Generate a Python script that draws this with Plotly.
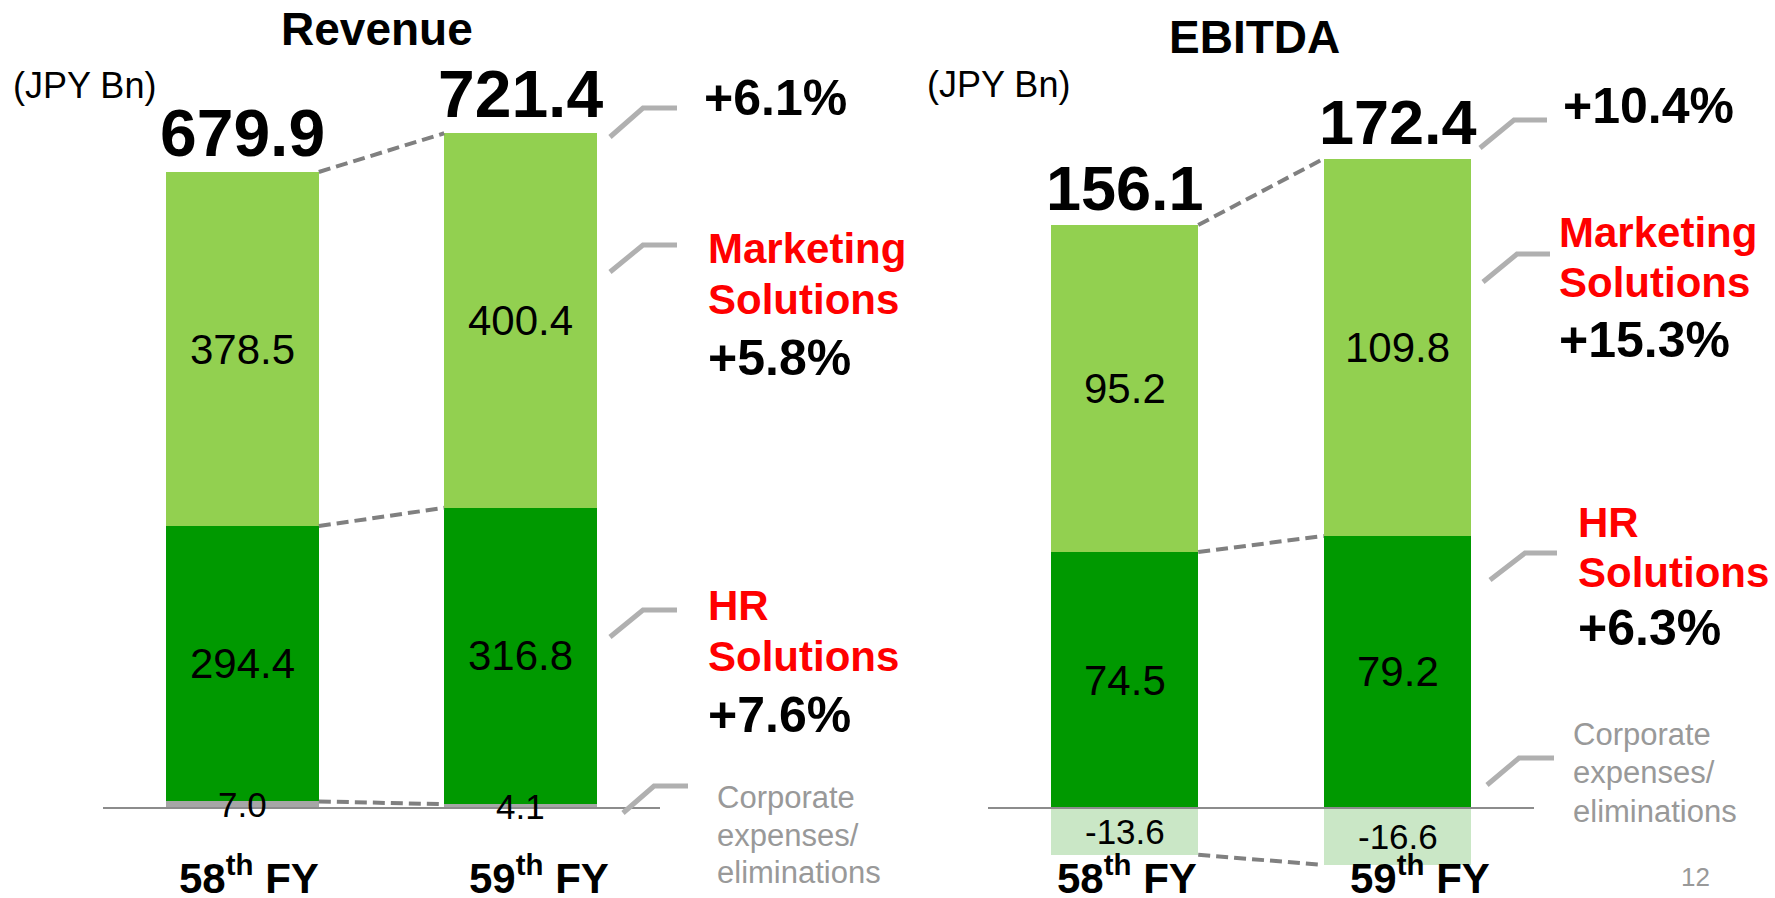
import plotly.graph_objects as go

W, H = 1775, 898
FONT = "Liberation Sans, Arial, sans-serif"

# ---------------- data ----------------
categories = ["58th FY", "59th FY"]
category_labels = ["58<sup>th</sup> FY", "59<sup>th</sup> FY"]

rev_corp = [7.0, 4.1]
rev_hr = [294.4, 316.8]
rev_ms = [378.5, 400.4]
rev_total = [679.9, 721.4]
rev_growth_total = "+6.1%"
rev_growth_ms = "+5.8%"
rev_growth_hr = "+7.6%"

ebitda_corp = [-13.6, -16.6]
ebitda_hr = [74.5, 79.2]
ebitda_ms = [95.2, 109.8]
ebitda_total = [156.1, 172.4]
ebitda_growth_total = "+10.4%"
ebitda_growth_ms = "+15.3%"
ebitda_growth_hr = "+6.3%"

# ---------------- style ----------------
C_MS = "#92D050"
C_HR = "#009900"
C_CORP_REV = "#A6A6A6"
C_CORP_EBITDA = "#CAE7C6"
C_RED = "#FF0000"
C_GRAY_TXT = "#999999"
C_DASH = "#808080"
C_CALLOUT = "#B0B0B0"

xs = list(range(len(categories)))

fig = go.Figure()


def add_panel(corp, hr, ms, corp_color, xa, ya, width):
    for vals, col in ((corp, corp_color), (hr, C_HR), (ms, C_MS)):
        fig.add_trace(go.Bar(x=xs, y=vals, marker=dict(color=col, line=dict(width=0)),
                             width=width, xaxis=xa, yaxis=ya, textposition="none",
                             hoverinfo="y", showlegend=False))


W_REV = 0.55
W_EB = 0.54
add_panel(rev_corp, rev_hr, rev_ms, C_CORP_REV, "x", "y", W_REV)
add_panel(ebitda_corp, ebitda_hr, ebitda_ms, C_CORP_EBITDA, "x2", "y2", W_EB)

annotations = []
shapes = []


def px(x, y):
    return x / W, 1 - y / H


def ptext(x, y, text, size, color="black", bold=False, xanchor="left"):
    xx, yy = px(x, y)
    annotations.append(dict(xref="paper", yref="paper", x=xx, y=yy, text=("<b>%s</b>" % text) if bold else text,
                            showarrow=False, xanchor=xanchor, yanchor="middle",
                            font=dict(family=FONT, size=size, color=color)))


def callout(points):
    pts = [px(*p) for p in points]
    path = "M %f %f " % pts[0] + " ".join("L %f %f" % p for p in pts[1:])
    shapes.append(dict(type="path", xref="paper", yref="paper", path=path,
                       line=dict(color=C_CALLOUT, width=5), layer="above"))


def panel_labels(corp, hr, ms, total, xref, yref, width, seg_size, corp_size, total_size, xlabel_shift):
    for i in xs:
        base = max(corp[i], 0)
        segs = [(corp[i] / 2, corp[i], corp_size), (base + hr[i] / 2, hr[i], seg_size),
                (base + hr[i] + ms[i] / 2, ms[i], seg_size)]
        for yc, v, sz in segs:
            annotations.append(dict(xref=xref, yref=yref, x=i, y=yc, text="%.1f" % v, showarrow=False,
                                    xanchor="center", yanchor="middle",
                                    font=dict(family=FONT, size=sz, color="black")))
        top = base + hr[i] + ms[i]
        annotations.append(dict(xref=xref, yref=yref, x=i, y=top, text="<b>%.1f</b>" % total[i],
                                showarrow=False, xanchor="center", yanchor="bottom", yshift=0,
                                font=dict(family=FONT, size=total_size, color="black")))
        annotations.append(dict(xref=xref, yref="paper", x=i, y=0, text="<b>%s</b>" % category_labels[i],
                                showarrow=False, xanchor="center", yanchor="bottom", xshift=xlabel_shift[i],
                                yshift=-6, font=dict(family=FONT, size=42, color="black")))
    # connectors between bars
    levels = [corp[0], max(corp[0], 0) + hr[0] + ms[0], max(corp[0], 0) + hr[0]]
    levels2 = [corp[1], max(corp[1], 0) + hr[1] + ms[1], max(corp[1], 0) + hr[1]]
    for a, b in zip(levels, levels2):
        shapes.append(dict(type="line", xref=xref, yref=yref, x0=xs[0] + width / 2, x1=xs[1] - width / 2,
                           y0=a, y1=b, line=dict(color=C_DASH, width=4, dash="12px,6px"), layer="above"))
    # baseline
    shapes.append(dict(type="line", xref=xref + " domain", yref=yref, x0=0, x1=1, y0=0, y1=0,
                       line=dict(color="#8C8C8C", width=2), layer="above"))


panel_labels(rev_corp, rev_hr, rev_ms, rev_total, "x", "y", W_REV, 42, 35, 66, [7, 18])
panel_labels(ebitda_corp, ebitda_hr, ebitda_ms, ebitda_total, "x2", "y2", W_EB, 42, 35, 63, [2, 22])

# ---------- Revenue side texts ----------
ptext(377, 29, "Revenue", 46, bold=True, xanchor="center")
ptext(11, 86, "(JPY Bn)", 36)
ptext(702, 98, rev_growth_total, 50, bold=True)
ptext(706, 249, "Marketing", 42, C_RED, True)
ptext(706, 299, "Solutions", 42, C_RED, True)
ptext(706, 358, rev_growth_ms, 50, bold=True)
ptext(706, 605, "HR", 42, C_RED, True)
ptext(706, 656, "Solutions", 42, C_RED, True)
ptext(706, 715, rev_growth_hr, 50, bold=True)
ptext(715, 797, "Corporate", 31, C_GRAY_TXT)
ptext(715, 835, "expenses/", 31, C_GRAY_TXT)
ptext(715, 872, "eliminations", 31, C_GRAY_TXT)
callout([(610, 137), (643, 108), (677, 108)])
callout([(610, 272), (643, 245), (677, 245)])
callout([(610, 637), (643, 610), (677, 610)])
callout([(623, 813), (654, 786), (688, 786)])

# ---------- EBITDA side texts ----------
ptext(1254, 37, "EBITDA", 46, bold=True, xanchor="center")
ptext(925, 85, "(JPY Bn)", 36)
ptext(1561, 106, ebitda_growth_total, 50, bold=True)
ptext(1557, 232, "Marketing", 42, C_RED, True)
ptext(1557, 282, "Solutions", 42, C_RED, True)
ptext(1557, 340, ebitda_growth_ms, 50, bold=True)
ptext(1576, 522, "HR", 42, C_RED, True)
ptext(1576, 572, "Solutions", 42, C_RED, True)
ptext(1576, 628, ebitda_growth_hr, 50, bold=True)
ptext(1571, 734, "Corporate", 31, C_GRAY_TXT)
ptext(1571, 772, "expenses/", 31, C_GRAY_TXT)
ptext(1571, 811, "eliminations", 31, C_GRAY_TXT)
callout([(1480, 148), (1514, 120), (1547, 120)])
callout([(1483, 282), (1517, 254), (1550, 254)])
callout([(1490, 580), (1525, 553), (1557, 553)])
callout([(1487, 785), (1519, 758), (1554, 758)])

ptext(1695, 877, "12", 26, C_GRAY_TXT, xanchor="center")

# axes ranges chosen so zero sits on the baseline
rev_scale = (808 - 172) / rev_total[0]
eb_scale = (808 - 225) / (ebitda_hr[0] + ebitda_ms[0])
ax_common = dict(visible=False, showgrid=False, zeroline=False, fixedrange=True)

fig.update_layout(
    width=W, height=H, margin=dict(l=0, r=0, t=0, b=0),
    paper_bgcolor="white", plot_bgcolor="rgba(0,0,0,0)",
    barmode="relative", bargap=0,
    xaxis=dict(domain=[103 / W, 660 / W], range=[-0.5, 1.5], **ax_common),
    yaxis=dict(domain=[0, 1], range=[-(H - 808) / rev_scale, 808 / rev_scale], **ax_common),
    xaxis2=dict(domain=[988 / W, 1534 / W], range=[-0.5, 1.5], anchor="y2", **ax_common),
    yaxis2=dict(domain=[0, 1], range=[-(H - 808) / eb_scale, 808 / eb_scale], anchor="x2", **ax_common),
    annotations=annotations, shapes=shapes, showlegend=False,
)

fig.write_html("out.html", config={"displayModeBar": False},
               post_script="document.body.style.margin='0';document.body.style.overflow='hidden';")
